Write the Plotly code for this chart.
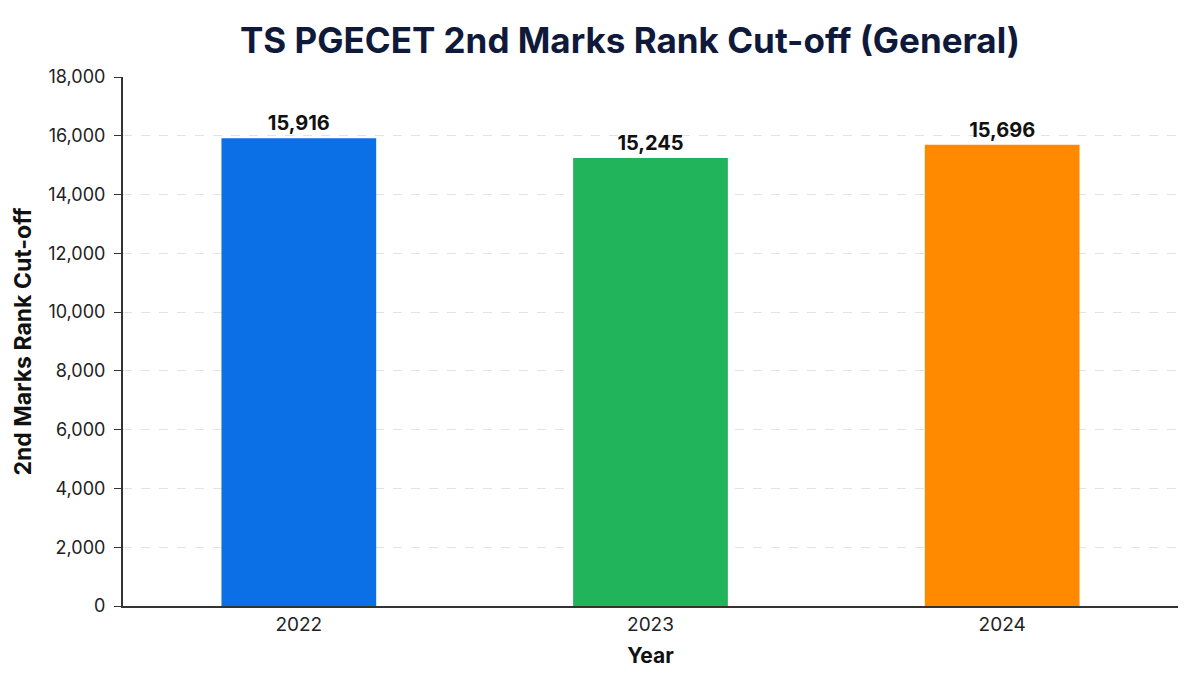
import plotly.graph_objects as go

years = ["2022", "2023", "2024"]
cutoffs = [15916, 15245, 15696]
colors = ["#0B6FE6", "#22B45A", "#FF8A00"]
y_ticks = list(range(0, 18001, 2000))

fig = go.Figure(go.Bar(
    x=years, y=cutoffs,
    marker=dict(color=colors, line=dict(width=0)),
    text=[f"{v:,}" for v in cutoffs],
    textposition="outside",
    textfont=dict(size=20, color="#111111", family="Inter", weight="bold"),
    cliponaxis=False,
    width=0.44,
))

fig.update_layout(
    width=1200, height=675,
    margin=dict(l=123, r=22, t=77, b=69),
    paper_bgcolor="white", plot_bgcolor="white",
    font=dict(family="Inter", color="#222222"),
    title=dict(text="<b>TS PGECET 2nd Marks Rank Cut-off (General)</b>",
               x=0.525, xanchor="center", y=0.94, yanchor="middle",
               font=dict(size=35, color="#0F1A3A", family="Inter")),
    showlegend=False,
)
fig.update_xaxes(
    title=dict(text="<b>Year</b>", font=dict(size=21, color="#111111"), standoff=14),
    tickfont=dict(size=19, color="#222222"),
    showline=True, linecolor="#333333", linewidth=2,
    showgrid=False, ticks="",
    range=[-0.5, 2.5],
)
fig.update_yaxes(
    title=dict(text="<b>2nd Marks Rank Cut-off</b>", font=dict(size=23, color="#111111"), standoff=10),
    range=[0, 18000], tickvals=y_ticks, ticktext=[f"{v:,}" for v in y_ticks],
    tickfont=dict(size=18, color="#222222"),
    ticklabelstandoff=5,
    showline=True, linecolor="#333333", linewidth=2,
    ticks="outside", ticklen=7, tickcolor="#333333",
    showgrid=True, gridcolor="#E3E3E3", griddash="dash", gridwidth=1,
    zeroline=False,
)

fig.write_html("out.html")
